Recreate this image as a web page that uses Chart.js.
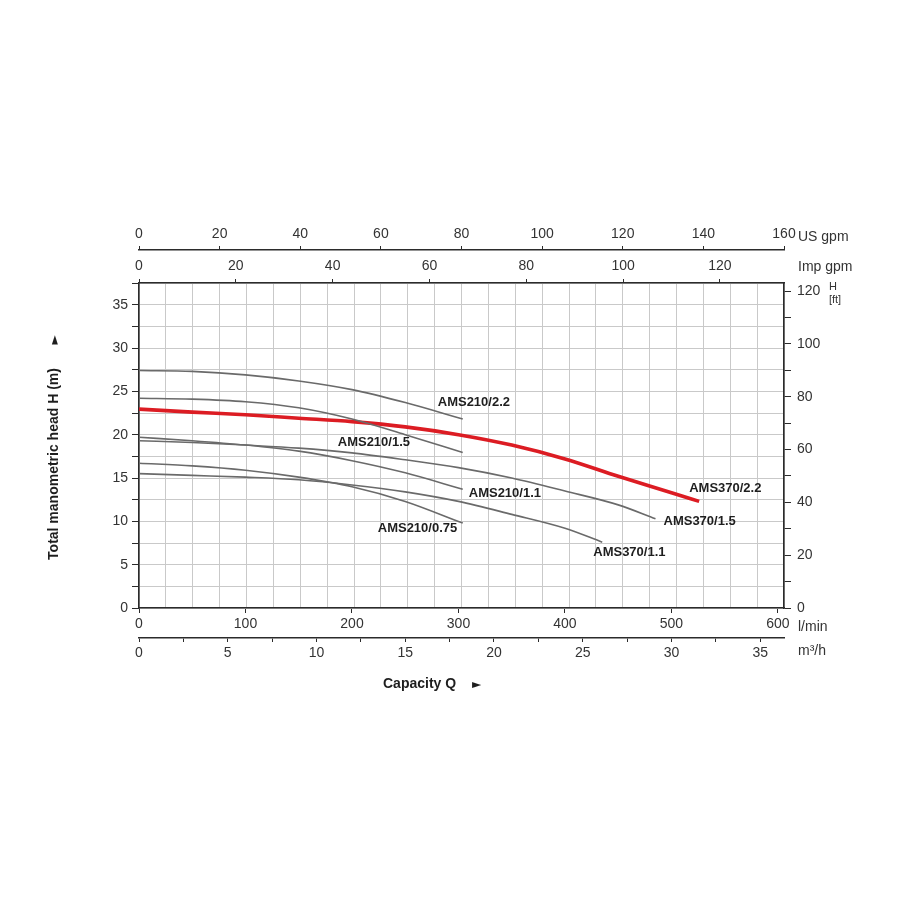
<!DOCTYPE html>
<html>
<head>
<meta charset="utf-8">
<script src="https://cdn.jsdelivr.net/npm/chart.js@4.4.1/dist/chart.umd.min.js"></script>
<style>
  html, body { margin: 0; padding: 0; background: #ffffff; }
  #wrap { width: 900px; height: 900px; }
</style>
</head>
<body>
<div id="wrap"><canvas id="c" width="900" height="900"></canvas></div>
<script>
// ---------- data (capacity in l/min, head in m) ----------
const q210_22  = [0, 50, 100, 150, 200, 250, 304];
const h210_22  = [27.4, 27.3, 26.9, 26.2, 25.2, 23.7, 21.8];
const q210_15  = [0, 50, 100, 150, 200, 250, 304];
const h210_15  = [24.2, 24.1, 23.8, 23.1, 21.8, 20.0, 17.95];
const q210_11  = [0, 50, 100, 150, 200, 250, 304];
const h210_11  = [19.7, 19.3, 18.8, 18.1, 17.0, 15.6, 13.7];
const q210_075 = [0, 50, 100, 150, 200, 250, 304];
const h210_075 = [16.7, 16.4, 15.9, 15.1, 14.0, 12.3, 9.8];
const q370_22  = [0, 50, 100, 150, 200, 250, 300, 350, 400, 450, 500, 526];
const h370_22  = [22.95, 22.6, 22.3, 21.9, 21.5, 20.9, 20.0, 18.8, 17.2, 15.2, 13.3, 12.3];
const q370_15  = [0, 50, 100, 150, 200, 250, 300, 350, 400, 450, 485];
const h370_15  = [19.3, 19.1, 18.8, 18.45, 17.9, 17.1, 16.2, 15.0, 13.5, 11.9, 10.3];
const q370_11  = [0, 50, 100, 150, 200, 250, 300, 350, 400, 435];
const h370_11  = [15.5, 15.3, 15.1, 14.8, 14.2, 13.4, 12.3, 10.8, 9.2, 7.6];

// axis ranges / units
const US_GPM_MAX = 160;
const H_MAX_M = 37.5;
const LPM_PER_USGPM = 3.78541;
const LPM_PER_IMPGPM = 4.54609;
const LPM_PER_M3H = 1000 / 60;
const FT_PER_M = 3.28084;
const X_MAX = US_GPM_MAX * LPM_PER_USGPM;
const GRID_DIV_X = 24;

const lpmTicks = [0, 100, 200, 300, 400, 500, 600];
const headTickStep = 2.5;

// ---------- styling ----------
const GRAY = '#6a6a6a';
const RED = '#dc1c23';
const AXIS = '#2b2b2b';
const TXT = '#333333';
const GRIDC = '#c9c9c9';
const FONT = "'Liberation Sans', Arial, Helvetica, sans-serif";

const labelOffsets = {
  'AMS210/2.2': [-25, -17],
  'AMS210/1.5': [-125, -10],
  'AMS210/1.1': [6, 4],
  'AMS210/0.75': [-85, 5],
  'AMS370/2.2': [-10, -13],
  'AMS370/1.5': [8, 3],
  'AMS370/1.1': [-9, 10]
};

function pts(q, h) { return q.map((v, i) => ({ x: v, y: h[i] })); }

function ds(name, q, h, color, width) {
  return {
    label: name,
    data: pts(q, h),
    borderColor: color,
    borderWidth: width,
    pointRadius: 0,
    fill: false,
    cubicInterpolationMode: 'monotone',
    xAxisID: 'x',
    yAxisID: 'y'
  };
}

const datasets = [
  ds('AMS210/2.2', q210_22, h210_22, GRAY, 1.6),
  ds('AMS210/1.5', q210_15, h210_15, GRAY, 1.6),
  ds('AMS210/1.1', q210_11, h210_11, GRAY, 1.6),
  ds('AMS210/0.75', q210_075, h210_075, GRAY, 1.6),
  ds('AMS370/1.5', q370_15, h370_15, GRAY, 1.6),
  ds('AMS370/1.1', q370_11, h370_11, GRAY, 1.6),
  ds('AMS370/2.2', q370_22, h370_22, RED, 3.6)
];

function near(a, b) { return Math.abs(a - b) < 1e-6; }
function isGridX(v) {
  for (let i = 0; i <= GRID_DIV_X; i++) if (near(v, X_MAX * i / GRID_DIV_X)) return true;
  return false;
}
function isLabelX(v) { return lpmTicks.some(t => near(t, v)); }
function isMult(v, m) { return Math.abs(v / m - Math.round(v / m)) < 1e-6; }

const tickFont = { family: FONT, size: 14 };

const textPlugin = {
  id: 'texts',
  afterDatasetsDraw(chart) {
    const ctx = chart.ctx;
    const ca = chart.chartArea;
    ctx.save();
    // curve labels
    ctx.fillStyle = '#1e1e1e';
    ctx.font = 'bold 13px ' + FONT;
    ctx.textAlign = 'left';
    ctx.textBaseline = 'middle';
    chart.data.datasets.forEach((d, i) => {
      const meta = chart.getDatasetMeta(i);
      const last = meta.data[meta.data.length - 1];
      const off = labelOffsets[d.label];
      ctx.fillText(d.label, last.x + off[0], last.y + off[1]);
    });

    // unit labels
    ctx.fillStyle = TXT;
    ctx.font = '14px ' + FONT;
    const ux = ca.right + 14;
    ctx.fillText('US gpm', ux, 237);
    ctx.fillText('Imp gpm', ux, 267);
    ctx.fillText('l/min', ux, 627);
    ctx.fillText('m³/h', ux, 651);
    ctx.font = '11px ' + FONT;
    ctx.textAlign = 'center';
    ctx.fillText('H', ca.right + 49, 287);
    ctx.fillText('[ft]', ca.right + 51, 300);

    // x title
    ctx.fillStyle = '#1e1e1e';
    ctx.textAlign = 'left';
    ctx.font = 'bold 14px ' + FONT;
    ctx.fillText('Capacity Q', 383, 684);
    ctx.font = '12px DejaVu Sans, ' + FONT;
    ctx.fillText('►', 472, 685);

    // y title
    ctx.save();
    ctx.translate(54, 464);
    ctx.rotate(-Math.PI / 2);
    ctx.textAlign = 'center';
    ctx.font = 'bold 14px ' + FONT;
    ctx.fillText('Total manometric head H (m)', 0, 0);
    ctx.restore();
    ctx.save();
    ctx.translate(55, 340);
    ctx.rotate(-Math.PI / 2);
    ctx.textAlign = 'center';
    ctx.font = '12px DejaVu Sans, ' + FONT;
    ctx.fillText('►', 0, 0);
    ctx.restore();

    ctx.restore();
  }
};

new Chart(document.getElementById('c'), {
  type: 'line',
  data: { datasets },
  options: {
    responsive: false,
    animation: false,
    devicePixelRatio: 1,
    layout: { padding: { top: 200, bottom: 200, left: 0, right: 0 } },
    plugins: { legend: { display: false }, tooltip: { enabled: false } },
    scales: {
      x: {
        type: 'linear', position: 'bottom', weight: 0,
        min: 0, max: X_MAX,
        afterBuildTicks(scale) {
          const arr = [];
          for (let i = 0; i <= GRID_DIV_X; i++) arr.push(X_MAX * i / GRID_DIV_X);
          lpmTicks.forEach(t => { if (!arr.some(a => near(a, t))) arr.push(t); });
          arr.sort((a, b) => a - b);
          scale.ticks = arr.map(v => ({ value: v }));
        },
        afterFit(scale) { scale.height = 30; },
        ticks: {
          autoSkip: false, maxRotation: 0, padding: 3, color: TXT, font: tickFont,
          callback: (v) => isLabelX(v) ? String(Math.round(v)) : ''
        },
        grid: {
          drawOnChartArea: true, drawTicks: true, tickLength: 5,
          color: (c) => (c.tick && isGridX(c.tick.value)) ? GRIDC : 'rgba(0,0,0,0)',
          tickColor: (c) => (c.tick && isLabelX(c.tick.value)) ? AXIS : 'rgba(0,0,0,0)',
          lineWidth: 1
        },
        border: { display: true, color: AXIS, width: 1.6 }
      },
      m3: {
        type: 'linear', position: 'bottom', weight: 1,
        min: 0, max: X_MAX / LPM_PER_M3H,
        afterFit(scale) { scale.height = 62; },
        ticks: {
          stepSize: 2.5, includeBounds: false, autoSkip: false, maxRotation: 0, padding: 3,
          color: TXT, font: tickFont,
          callback: (v) => isMult(v, 5) ? String(v) : ''
        },
        grid: { drawOnChartArea: false, drawTicks: true, tickLength: 4, tickColor: AXIS },
        border: { display: true, color: AXIS, width: 1.6 }
      },
      imp: {
        type: 'linear', position: 'top', weight: 0,
        min: 0, max: X_MAX / LPM_PER_IMPGPM,
        afterFit(scale) { scale.height = 33; },
        ticks: {
          stepSize: 20, includeBounds: false, autoSkip: false, maxRotation: 0, padding: 4,
          color: TXT, font: tickFont
        },
        grid: { drawOnChartArea: false, drawTicks: true, tickLength: 4, tickColor: AXIS },
        border: { display: true, color: AXIS, width: 1.6 }
      },
      usgpm: {
        type: 'linear', position: 'top', weight: 1,
        min: 0, max: US_GPM_MAX,
        afterFit(scale) { scale.height = 50; },
        ticks: {
          stepSize: 20, includeBounds: false, autoSkip: false, maxRotation: 0, padding: 3,
          color: TXT, font: tickFont
        },
        grid: { drawOnChartArea: false, drawTicks: true, tickLength: 4, tickColor: AXIS },
        border: { display: true, color: AXIS, width: 1.6 }
      },
      y: {
        type: 'linear', position: 'left',
        min: 0, max: H_MAX_M,
        afterFit(scale) { scale.width = 139; },
        ticks: {
          stepSize: headTickStep, includeBounds: false, autoSkip: false, padding: 4,
          color: TXT, font: tickFont,
          callback: (v) => isMult(v, 5) ? String(v) : ''
        },
        grid: {
          drawOnChartArea: true, drawTicks: true, tickLength: 7,
          color: GRIDC, tickColor: AXIS, lineWidth: 1
        },
        border: { display: true, color: AXIS, width: 1.6 }
      },
      ft: {
        type: 'linear', position: 'right',
        min: 0, max: H_MAX_M * FT_PER_M,
        afterFit(scale) { scale.width = 116; },
        ticks: {
          stepSize: 10, includeBounds: false, autoSkip: false, padding: 6,
          color: TXT, font: tickFont,
          callback: (v) => isMult(v, 20) ? String(v) : ''
        },
        grid: { drawOnChartArea: false, drawTicks: true, tickLength: 7, tickColor: AXIS },
        border: { display: true, color: AXIS, width: 1.6 }
      }
    }
  },
  plugins: [textPlugin]
});
</script>
</body>
</html>
